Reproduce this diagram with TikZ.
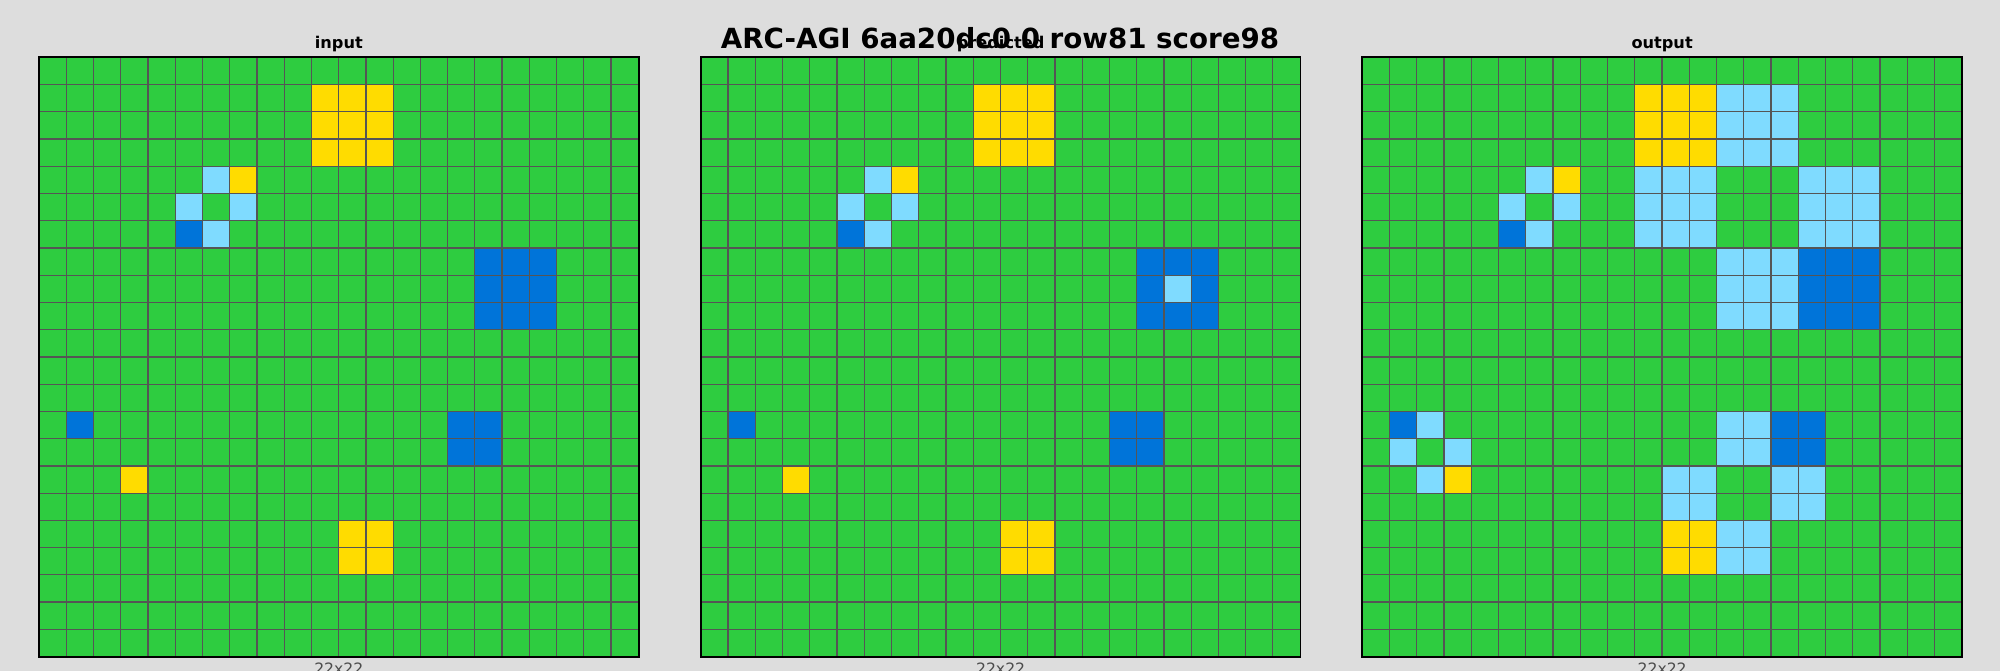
\documentclass[tikz,border=0pt]{standalone}
\usepackage{fontspec}
\setmainfont{DejaVu Sans}
\usepackage{xcolor}
\usetikzlibrary{positioning}

\definecolor{bgc}{HTML}{DDDDDD}
\definecolor{arcgreen}{HTML}{2ECC40}
\definecolor{arcyellow}{HTML}{FFDC00}
\definecolor{arcsky}{HTML}{7FDBFF}
\definecolor{arcblue}{HTML}{0074D9}
\definecolor{gridgray}{HTML}{555555}

\newcommand{\cellsz}{27.24}
% \blk{panel}{colour}{col}{row}{w}{h}
\newcommand{\blk}[6]{\fill[#2] (#1.north west) ++(#3*\cellsz,#4*\cellsz) rectangle ++(#5*\cellsz,#6*\cellsz);}

\begin{document}
\begin{tikzpicture}[
    x=0.01cm, y=-0.01cm,
    panel/.style={fill=arcgreen, inner sep=0pt, outer sep=0pt,
                  minimum size=5.993cm, anchor=north west},
    gridln/.style={draw=gridgray, line width=0.35pt},
    frame/.style={draw=black, line width=0.5pt},
    hd/.style={font=\fontsize{4.6}{5}\selectfont\bfseries, anchor=base},
    szlab/.style={font=\fontsize{4.45}{5}\selectfont, text=black!70, anchor=base},
]
  \useasboundingbox (0,0) rectangle (2000,671);
  \fill[bgc] (0,0) rectangle (2000,671);
  % Panels
  \node[panel] (inp) at (39,57.3) {};
  \node[panel] (pred) at (700.8,57.3) {};
  \node[panel] (outp) at (1362.3,57.3) {};
  % Cells shared by all three
  \foreach \nm in {inp,pred,outp} {
    \blk{\nm}{arcyellow}{10}{1}{3}{3}
    \blk{\nm}{arcyellow}{7}{4}{1}{1}
    \blk{\nm}{arcyellow}{3}{15}{1}{1}
    \blk{\nm}{arcyellow}{11}{17}{2}{2}
    \blk{\nm}{arcsky}{6}{4}{1}{1}
    \blk{\nm}{arcsky}{5}{5}{1}{1}
    \blk{\nm}{arcsky}{7}{5}{1}{1}
    \blk{\nm}{arcsky}{6}{6}{1}{1}
    \blk{\nm}{arcblue}{5}{6}{1}{1}
    \blk{\nm}{arcblue}{16}{7}{3}{3}
    \blk{\nm}{arcblue}{1}{13}{1}{1}
    \blk{\nm}{arcblue}{15}{13}{2}{2}
  }
  % Predicted
  \blk{pred}{arcsky}{17}{8}{1}{1}
  % Output
  \blk{outp}{arcsky}{13}{1}{3}{3}
  \blk{outp}{arcsky}{10}{4}{3}{3}
  \blk{outp}{arcsky}{16}{4}{3}{3}
  \blk{outp}{arcsky}{13}{7}{3}{3}
  \blk{outp}{arcsky}{2}{13}{1}{1}
  \blk{outp}{arcsky}{1}{14}{1}{1}
  \blk{outp}{arcsky}{3}{14}{1}{1}
  \blk{outp}{arcsky}{2}{15}{1}{1}
  \blk{outp}{arcsky}{13}{13}{2}{2}
  \blk{outp}{arcsky}{11}{15}{2}{2}
  \blk{outp}{arcsky}{15}{15}{2}{2}
  \blk{outp}{arcsky}{13}{17}{2}{2}
  % Grid lines, frames and labels
  \foreach \nm/\ttl in {inp/input, pred/predicted, outp/output} {
    \foreach \k in {1,...,21} {
      \draw[gridln] (\nm.north west) ++(\k*\cellsz,0) -- ++(0,22*\cellsz);
      \draw[gridln] (\nm.north west) ++(0,\k*\cellsz) -- ++(22*\cellsz,0);
    }
    \draw[frame] (\nm.north west) rectangle (\nm.south east);
    \node[hd, yshift=0.089cm] (t\nm) at (\nm.north) {\ttl};
    \node[szlab, yshift=-0.177cm] (s\nm) at (\nm.south) {22x22};
  }
  % Title
  \node[font=\fontsize{7.88}{9}\selectfont\bfseries, anchor=base] (title) at (1000,49)
    {ARC-AGI 6aa20dc0 0 row81 score98};
\end{tikzpicture}
\end{document}
